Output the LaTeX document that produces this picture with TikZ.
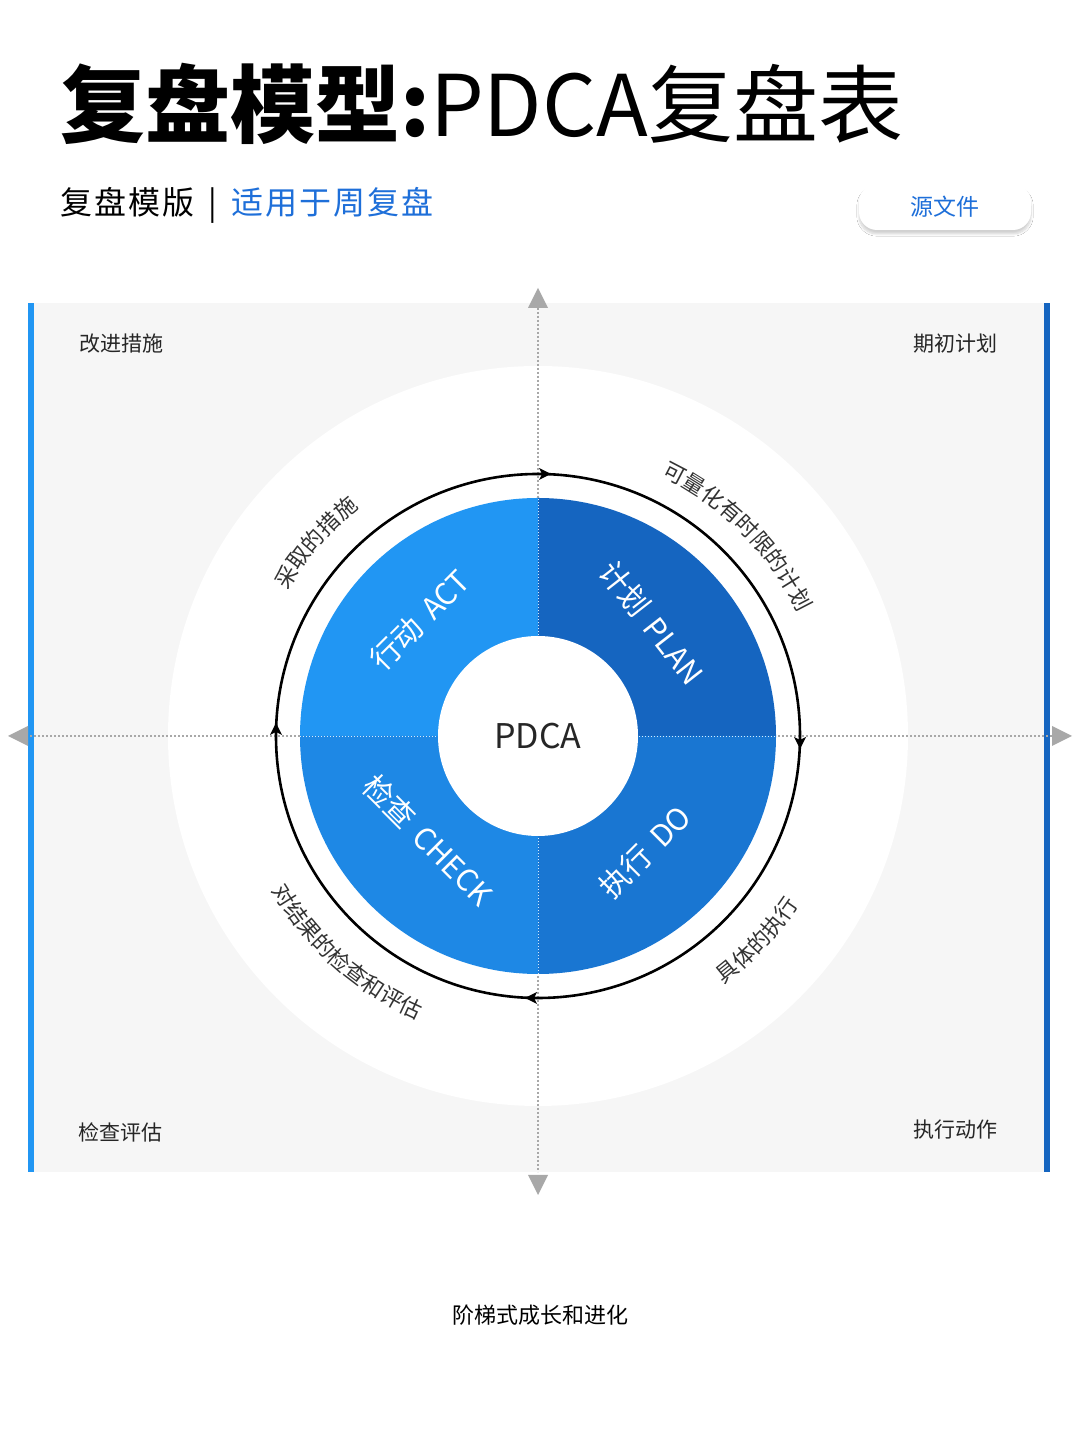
\documentclass[tikz,border=0pt]{standalone}
\usepackage{fontspec}
\setmainfont{Noto Sans CJK SC}
\usetikzlibrary{arrows.meta,decorations.text,shadows.blur}
\definecolor{bgray}{HTML}{F6F6F6}
\definecolor{cact}{HTML}{2196F3}
\definecolor{cplan}{HTML}{1565C0}
\definecolor{cdo}{HTML}{1976D2}
\definecolor{ccheck}{HTML}{1E88E5}
\definecolor{axgray}{HTML}{A8A8A8}
\definecolor{subblue}{HTML}{1E6FD9}
\tikzset{
  corner/.style={font=\fontsize{21}{21}\selectfont, text=black!85},
  qlabel/.style={font=\fontsize{30}{30}\selectfont, text=white},
  axis/.style={axgray, line width=2.2pt, dash pattern=on 1.6pt off 2.4pt},
  axtip/.style={fill=axgray, draw=none},
  arctext/.style={decorate, decoration={text along path, text align=center, text={|\fontsize{22}{22}\selectfont\color{black!80}|#1}}},
}
\begin{document}
\begin{tikzpicture}[x=1pt,y=1pt]
\fill[white] (0,0) rectangle (1080,1440);
% title
\node[anchor=west, inner sep=0] (title) at (60,1336) {\fontsize{85}{85}\selectfont\bfseries 复盘模型:\mdseries PDCA复盘表};
\node[anchor=west, inner sep=0] (sub) at (60,1235) {\fontsize{32}{32}\selectfont 复\kern2pt 盘\kern2pt 模\kern2pt 版\ \ |\ \ \textcolor{subblue}{适\kern2pt 用\kern2pt 于\kern2pt 周\kern2pt 复\kern2pt 盘}};
\node[fill=white, rounded corners=18pt, minimum width=172pt, minimum height=46pt, blur shadow={shadow blur steps=8, shadow xshift=0pt, shadow yshift=-4pt, shadow opacity=18}, text=subblue, font=\fontsize{23}{23}\selectfont] (btn) at (945,1233) {源文件};
% panel
\fill[bgray] (30,268) rectangle (1050,1137);
\fill[cact] (28,268) rectangle (34,1137);
\fill[cplan] (1044,268) rectangle (1050,1137);
\coordinate (c) at (538,704);
\fill[white] (c) circle (370);
% axes
\coordinate (at) at (538,1140); \coordinate (ab) at (538,268);
\coordinate (al) at (22,704); \coordinate (ar) at (1056,704);
\draw[axis] (at) -- (ab);
\draw[axis] (al) -- (ar);
\fill[axtip] (538,1152) -- (528,1132) -- (548,1132) -- cycle;
\fill[axtip] (538,245) -- (528,265) -- (548,265) -- cycle;
\fill[axtip] (8,704) -- (28,694) -- (28,714) -- cycle;
\fill[axtip] (1072,704) -- (1052,694) -- (1052,714) -- cycle;
% corner labels
\node[corner] (k1) at (121,1096) {改进措施};
\node[corner] (k2) at (955,1096) {期初计划};
\node[corner] (k3) at (120,308) {检查评估};
\node[corner] (k4) at (955,310) {执行动作};
% cycle circle
\draw[black, line width=2.6pt] (c) circle (262);
\foreach \p/\r in {{(545,966)}/0, {(800,697)}/-90, {(531,442)}/180, {(276,711)}/90}
  \fill[black, rotate around={\r:\p}] \p ++(6,0) -- ++(-12,6) -- ++(3,-6) -- ++(-3,-6) -- cycle;
% donut
\fill[cact] (c) -- ++(90:238) arc (90:180:238) -- cycle;
\fill[cplan] (c) -- ++(0:238) arc (0:90:238) -- cycle;
\fill[cdo] (c) -- ++(-90:238) arc (-90:0:238) -- cycle;
\fill[ccheck] (c) -- ++(180:238) arc (180:270:238) -- cycle;
\draw[white!80!cact, line width=0.8pt, dash pattern=on 1pt off 2pt] (300,704) -- (776,704) (538,466) -- (538,942);
\fill[white] (c) circle (100);
\node[font=\fontsize{34}{34}\selectfont, text=black!85] (pdca) at (c) {PDCA};
\node[qlabel, rotate=-52] (plan) at (652,817) {计划\, PLAN};
\node[qlabel, rotate=45] (act) at (420,820) {行动\, ACT};
\node[qlabel, rotate=-45] (check) at (428,600) {检查\, CHECK};
\node[qlabel, rotate=45] (do) at (645,588) {执行\, DO};
% arc texts
\path[arctext={可量化有时限的计划}] (c) ++(78:288) arc (78:12:288);
\path[arctext={采取的措施}] (c) ++(162:290) arc (162:116:290);
\path[arctext={对结果的检查和评估}] (c) ++(195:308) arc (195:262:308);
\path[arctext={具体的执行}] (c) ++(294:310) arc (294:340:310);
\node[font=\fontsize{22}{22}\selectfont] (foot) at (540,125) {阶梯式成长和进化};
\end{tikzpicture}
\end{document}
